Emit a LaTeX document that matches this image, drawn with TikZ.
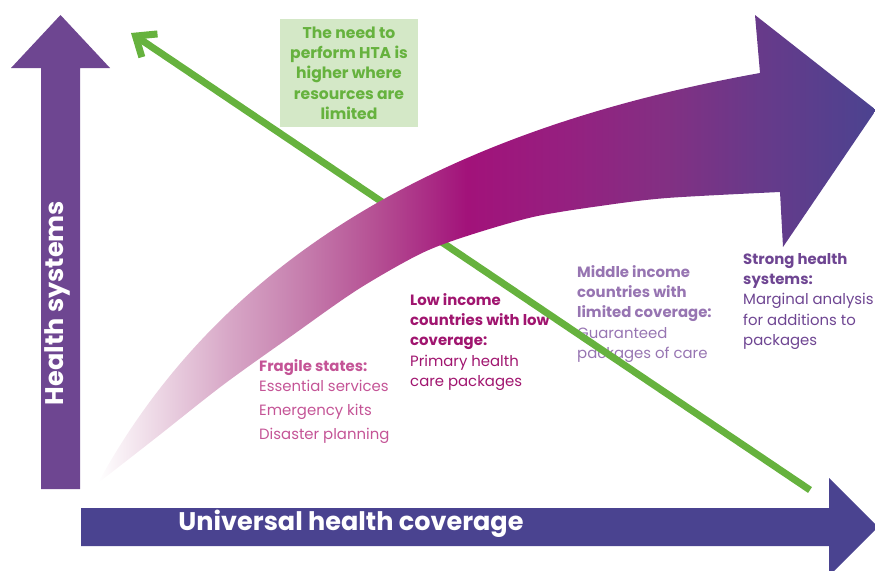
\documentclass[tikz,border=0pt]{standalone}
\usepackage{fontspec}
\setmainfont{Poppins}
\usepackage{tikz}
\usetikzlibrary{
  arrows.meta,
  positioning
}

\definecolor{hsPurple}{RGB}{110,70,145}
\definecolor{uhcBlue}{RGB}{74,67,144}
\definecolor{htaGreen}{RGB}{102,178,62}
\definecolor{htaFill}{RGB}{212,232,199}
\definecolor{fragPink}{RGB}{196,84,150}
\definecolor{lowMag}{RGB}{160,21,111}
\definecolor{midLilac}{RGB}{151,117,178}
\definecolor{strongPurple}{RGB}{110,69,146}

% colour stops of the curved arrow
\definecolor{sw0}{RGB}{255,255,255}
\definecolor{sw1}{RGB}{239,220,232}
\definecolor{sw2}{RGB}{215,166,198}
\definecolor{sw3}{RGB}{198,127,174}
\definecolor{sw4}{RGB}{180,77,146}
\definecolor{sw5}{RGB}{162,18,122}
\definecolor{sw6}{RGB}{149,32,128}
\definecolor{sw7}{RGB}{130,48,131}
\definecolor{sw8}{RGB}{103,58,138}
\definecolor{sw9}{RGB}{75,67,144}
\pgfdeclarehorizontalshading{swoosh}{100bp}{
  color(0bp)=(sw0); color(25bp)=(sw0); color(28.3bp)=(sw1);
  color(33.5bp)=(sw2); color(38bp)=(sw3); color(43.1bp)=(sw4);
  color(48.7bp)=(sw5); color(55.2bp)=(sw6); color(61.6bp)=(sw7);
  color(67.6bp)=(sw8); color(75bp)=(sw9); color(100bp)=(sw9)}

\begin{document}
\begin{tikzpicture}[
  x=1pt,
  y=-1pt,
  axislabel/.style={
    text=white,
    inner sep=0pt,
    font=\fontsize{25.5}{25.5}\selectfont\bfseries
  },
  stage/.style={
    anchor=north west,
    align=left,
    inner sep=0pt,
    font=\fontsize{14.9}{20.3}\selectfont
  },
  htabox/.style={
    fill=htaFill,
    text=htaGreen,
    align=center,
    inner sep=0pt,
    minimum width=138pt,
    minimum height=108pt,
    font=\fontsize{15.6}{20.3}\selectfont\bfseries
  },
  htaarrow/.style={
    draw=htaGreen,
    line width=7pt,
    -{Straight Barb[length=17pt,width=28pt]}
  }
]
\useasboundingbox (0,0) rectangle (875,570);

% --- stage texts ---
\node[stage,text=fragPink] (fragile) at (259,359)
  {\textbf{Fragile states:}\\Essential services\\[3.5pt]Emergency kits\\[3.5pt]Disaster planning};
\node[stage,text=lowMag] (lowinc) at (410,293)
  {\textbf{Low income}\\\textbf{countries with low}\\\textbf{coverage:}\\Primary health\\care packages};
\node[stage,text=midLilac] (midinc) at (577,265)
  {\textbf{Middle income}\\\textbf{countries with}\\\textbf{limited coverage:}\\Guaranteed\\packages of care};
\node[stage,text=strongPurple] (strong) at (743,253)
  {\textbf{Strong health}\\\textbf{systems:}\\Marginal analysis\\for additions to\\packages};

% --- HTA need ---
\node[htabox] (htaneed) at (349,73)
  {The need to\\perform HTA is\\higher where\\resources are\\limited};
\coordinate (htaLow) at (810,490);
\coordinate (htaHigh) at (131,33);
\draw[htaarrow] (htaLow) -- (htaHigh);

% --- curved arrow ---
\shade[shading=swoosh]
  (98,483) .. controls (228,245) and (465,126) .. (760,73)
  -- (755,15) -- (876,110) -- (783,247) -- (780,192)
  -- plot[smooth] coordinates {(780,192) (667,198) (600,206) (533,217)
    (467,236) (420,254) (357,290) (290,337) (223,385) (157,437) (98,483)}
  -- cycle;

% --- axes ---
\fill[hsPurple] (41,489) -- (41,68) -- (11,68) -- (60.5,15) -- (110,68)
  -- (80,68) -- (80,489) -- cycle;
\node[axislabel,rotate=90] (hsys) at (57,303) {Health systems};

\fill[uhcBlue] (81,508) -- (829,508) -- (829,478) -- (878,527) -- (829,576)
  -- (829,546) -- (81,546) -- cycle;
\node[axislabel] (uhc) at (351,524) {Universal health coverage};

\end{tikzpicture}
\end{document}
